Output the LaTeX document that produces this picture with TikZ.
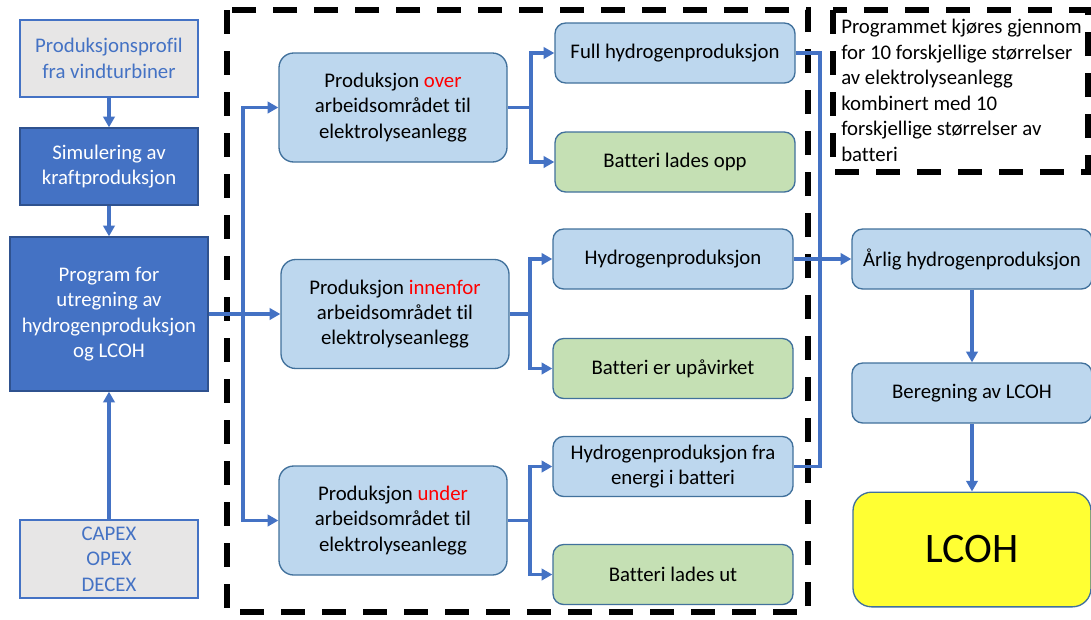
\documentclass[tikz,border=0pt]{standalone}
\usepackage{fontspec}
\setmainfont{Carlito}[Ligatures=NoCommon]
\usetikzlibrary{arrows.meta}
\definecolor{mainblue}{HTML}{4472C4}
\definecolor{darkblue}{HTML}{2F528F}
\definecolor{edgeblue}{HTML}{41719C}
\definecolor{boxgray}{HTML}{E7E6E6}
\definecolor{lightblue}{HTML}{BDD7EE}
\definecolor{lightgreen}{HTML}{C5E0B4}
\definecolor{hiyellow}{HTML}{FFFF33}
\definecolor{hired}{HTML}{FF0000}
\tikzset{
  x=0.75pt, y=-0.75pt,
  every node/.style={font=\fontsize{15.6}{19}\selectfont, align=center, inner sep=2pt},
  inbox/.style={draw=mainblue, line width=1pt, fill=boxgray, text=mainblue,
    minimum width=133.5pt, minimum height=57.75pt},
  procbox/.style={draw=darkblue, line width=1pt, fill=mainblue, text=white,
    minimum width=133.5pt, minimum height=57.75pt},
  casebox/.style={draw=edgeblue, line width=1pt, fill=lightblue, rounded corners=11pt,
    minimum width=171pt, minimum height=81.75pt},
  resbox/.style={draw=edgeblue, line width=1pt, fill=lightblue, rounded corners=8pt,
    minimum width=180pt, minimum height=45pt},
  batbox/.style={resbox, fill=lightgreen},
  conn/.style={draw=mainblue, line width=2.4pt},
  arr/.style={conn, -{Triangle[length=8pt,width=8.5pt]}},
  frame/.style={draw=black, line width=3.9pt, dash pattern=on 18pt off 12.75pt}
}
\begin{document}
\begin{tikzpicture}
\clip (0,0) rectangle (1091,619);
\fill[white] (0,0) rectangle (1091,619);

% dashed frames
\draw[frame] (227,10) rectangle (808,612);
\draw[frame] (833,10) rectangle (1088,172);
\node[anchor=north west, align=left, inner sep=0pt,
  font=\fontsize{15.6}{19.1}\selectfont] (note) at (841,19)
  {Programmet kjøres gjennom\\for 10 forskjellige størrelser\\av elektrolyseanlegg\\kombinert med 10\\forskjellige størrelser av\\batteri};

% left column
\node[inbox] (prof) at (109,58.5) {Produksjonsprofil\\fra vindturbiner};
\node[procbox] (sim) at (109,166.5) {Simulering av\\kraftproduksjon};
\node[procbox, minimum width=148.5pt, minimum height=115.5pt] (prog) at (109,314)
  {Program for\\utregning av\\hydrogenproduksjon\\og LCOH};
\node[inbox, minimum height=58.5pt] (capex) at (109,559) {CAPEX\\OPEX\\DECEX};

% operating cases
\node[casebox] (over) at (393,107.5) {Produksjon \textcolor{hired}{over}\\arbeidsområdet til\\elektrolyseanlegg};
\node[casebox] (inn) at (395,314) {Produksjon \textcolor{hired}{innenfor}\\arbeidsområdet til\\elektrolyseanlegg};
\node[casebox] (under) at (393,520.5) {Produksjon \textcolor{hired}{under}\\arbeidsområdet til\\elektrolyseanlegg};

% outcomes
\node[resbox] (full) at (675,53) {Full hydrogenproduksjon};
\node[batbox] (opp) at (675,162) {Batteri lades opp};
\node[resbox] (hyd) at (673,259) {Hydrogenproduksjon};
\node[batbox] (upa) at (673,368.5) {Batteri er upåvirket};
\node[resbox] (fra) at (673,466.5) {Hydrogenproduksjon fra\\energi i batteri};
\node[batbox] (ut) at (673,574.5) {Batteri lades ut};

% results
\node[resbox] (arlig) at (972,259) {Årlig hydrogenproduksjon};
\node[resbox] (ber) at (972,393) {Beregning av LCOH};
\node[resbox, fill=hiyellow, rounded corners=14pt, minimum width=178.5pt, minimum height=86pt,
  font=\fontsize{31.5}{36}\selectfont] (lcoh) at (972,549.5) {LCOH};

% branch points
\coordinate (bl) at (243,0);
\coordinate (b1) at (531,0);
\coordinate (b2) at (530,0);
\coordinate (b3) at (530,0);
\coordinate (rc) at (820,0);

% connectors
\draw[arr] (prof) -- (sim);
\draw[arr] (sim) -- (sim |- prog.north);
\draw[arr] (capex) -- (capex |- prog.south);

\draw[arr] (prog.east) -- (inn.west);
\draw[arr] (bl |- inn.west) |- (over.west);
\draw[arr] (bl |- inn.west) |- (under.west);

\draw[conn] (over.east) -- (b1 |- over.east);
\draw[arr] (b1 |- over.east) |- (full.west);
\draw[arr] (b1 |- over.east) |- (opp.west);

\draw[conn] (inn.east) -- (b2 |- inn.east);
\draw[arr] (b2 |- inn.east) |- (hyd.west);
\draw[arr] (b2 |- inn.east) |- (upa.west);

\draw[conn] (under.east) -- (b3 |- under.east);
\draw[arr] (b3 |- under.east) |- (fra.west);
\draw[arr] (b3 |- under.east) |- (ut.west);

\draw[conn] (full.east) -| (rc |- fra.east) -- (fra.east);
\draw[arr] (hyd.east) -- (arlig.west);

\draw[arr] (arlig) -- (ber);
\draw[arr] (ber) -- (lcoh);
\end{tikzpicture}
\end{document}
